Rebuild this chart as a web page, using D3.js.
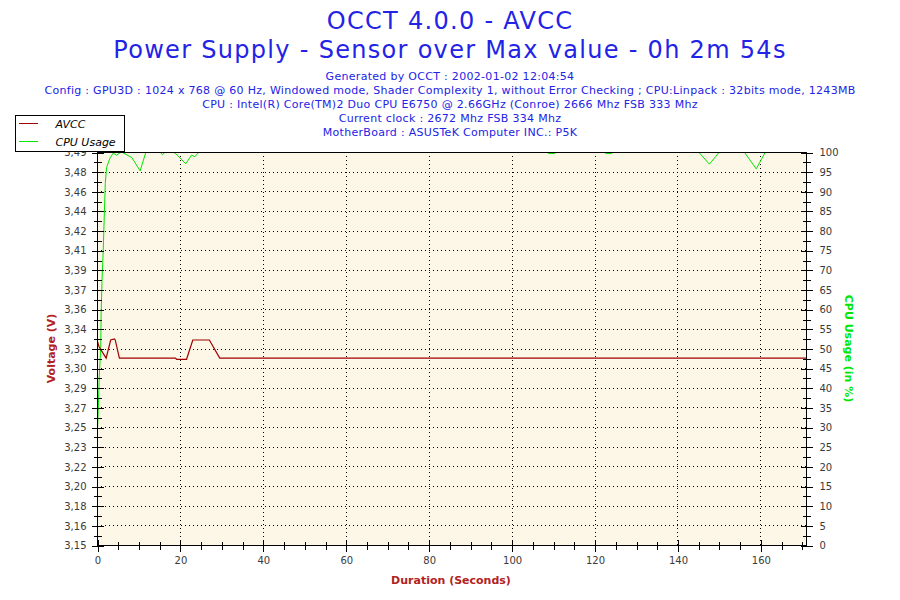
<!DOCTYPE html>
<html>
<head>
<meta charset="utf-8">
<script src="https://cdn.jsdelivr.net/npm/d3@7"></script>
<style>
  body { margin: 0; background: #fff; }
  svg { display: block; font-family: "DejaVu Sans", Verdana, sans-serif; }
  .tick text { fill: #3a3a3a; font-size: 10px; }
  .domain { display: none; }
  .tick line { stroke: #000; shape-rendering: crispEdges; }
  .grid line { stroke: #000; stroke-dasharray: 1,3; shape-rendering: crispEdges; }
  .title { fill: #2323e6; font-size: 24px; letter-spacing: 1.3px; text-anchor: middle; }
  .info { fill: #2323e6; font-size: 11px; letter-spacing: 0.3px; text-anchor: middle; }
  .axis-title { font-size: 11px; font-weight: bold; text-anchor: middle; }
</style>
</head>
<body>
<svg id="chart" width="900" height="600"></svg>
<script>
// AVCC voltage samples (seconds, volts)
const avccTime = [0, 0.5, 2.2, 3.3, 4.2, 4.4, 5.4, 18.9, 19.2, 21.6, 23.1, 27.1, 29.6, 171];
const avccVolts = [3.328, 3.322, 3.312, 3.328, 3.329, 3.328, 3.312, 3.312, 3.311, 3.311, 3.328, 3.328, 3.312, 3.312];

// CPU usage samples (seconds, percent)
const cpuTime = [0, 0.3, 0.55, 0.9, 1.0, 1.2, 1.5, 1.75, 2.0, 2.3, 3.1, 3.9, 4.7, 5.9, 8.4, 10.4, 11.8,
  15.2, 15.8, 16.5, 18.8, 21.4, 22.8, 23.6, 24.6, 108.5, 108.9, 110.4, 110.8, 122.3, 122.7, 124.1, 124.5,
  145.1, 147.7, 150.1, 156.1, 159.0, 161.2, 171];
const cpuUsage = [26, 34, 43, 50, 59, 67, 75, 83.5, 92, 96, 98.4, 99.7, 99.2, 100, 98.6, 95.2, 100,
  100, 99.3, 100, 99.8, 97, 99.2, 98.8, 100, 100, 99.6, 99.6, 100, 100, 99.6, 99.6, 100,
  100, 96.9, 100, 100, 95.7, 100, 100];

const voltDomain = [3.1475, 3.4935];
const voltLabels = ['3,15', '3,16', '3,18', '3,20', '3,22', '3,23', '3,25', '3,27', '3,29', '3,30', '3,32',
  '3,34', '3,36', '3,37', '3,39', '3,41', '3,42', '3,44', '3,46', '3,48', '3,49'];
const cpuTicks = d3.range(0, 101, 5);
const durationMax = 171;
const durationTicks = [0, 20, 40, 60, 80, 100, 120, 140, 160];
const durationMinor = d3.range(0, durationMax, 5);

const titleLines = ['OCCT 4.0.0 - AVCC', 'Power Supply - Sensor over Max value - 0h 2m 54s'];
const infoLines = [
  'Generated by OCCT : 2002-01-02 12:04:54',
  'Config : GPU3D : 1024 x 768 @ 60 Hz, Windowed mode, Shader Complexity 1, without Error Checking ; CPU:Linpack : 32bits mode, 1243MB',
  'CPU : Intel(R) Core(TM)2 Duo CPU E6750 @ 2.66GHz (Conroe) 2666 Mhz FSB 333 Mhz',
  'Current clock : 2672 Mhz FSB 334 Mhz',
  'MotherBoard : ASUSTeK Computer INC.: P5K',
];

const voltColor = '#a00000';
const voltLabelColor = '#b22222';
const cpuColor = '#00e600';

const plot = { left: 97, right: 806, top: 152, bottom: 545 };

const svg = d3.select('#chart');

const x = d3.scaleLinear().domain([0, durationMax]).range([plot.left, plot.right]);
const yVolt = d3.scaleLinear().domain(voltDomain).range([plot.bottom, plot.top]);
const yCpu = d3.scaleLinear().domain([0, 100]).range([plot.bottom, plot.top]);

const voltStep = (voltDomain[1] - voltDomain[0]) / (voltLabels.length - 1);
const voltTicks = voltLabels.map((d, i) => voltDomain[0] + i * voltStep);
const voltMinor = voltTicks.slice(1).map(v => v - voltStep / 2);
const cpuMinor = cpuTicks.slice(1).map(v => v - 2.5);

// titles
svg.append('g')
  .selectAll('text')
  .data(titleLines)
  .enter()
  .append('text')
  .attr('class', 'title')
  .attr('x', 450)
  .attr('y', (d, i) => 29 + i * 29)
  .text(d => d)
;
svg.append('g')
  .selectAll('text')
  .data(infoLines)
  .enter()
  .append('text')
  .attr('class', 'info')
  .attr('x', 450)
  .attr('y', (d, i) => 80 + i * 14)
  .text(d => d)
;

// plot background
svg.append('rect')
  .attr('x', plot.left)
  .attr('y', plot.top)
  .attr('width', plot.right - plot.left)
  .attr('height', plot.bottom - plot.top)
  .attr('fill', '#fdf7e8')
;

// dotted grid
const grid = svg.append('g').attr('class', 'grid');
grid.selectAll('line.h')
  .data(voltTicks.slice(1, -1))
  .enter()
  .append('line')
  .attr('x1', plot.left)
  .attr('x2', plot.right)
  .attr('y1', d => Math.round(yVolt(d)) + 0.5)
  .attr('y2', d => Math.round(yVolt(d)) + 0.5)
;
grid.selectAll('line.v')
  .data(durationTicks.slice(1))
  .enter()
  .append('line')
  .attr('x1', d => Math.round(x(d)) + 0.5)
  .attr('x2', d => Math.round(x(d)) + 0.5)
  .attr('y1', plot.top)
  .attr('y2', plot.bottom)
;

// series
const clip = svg.append('defs').append('clipPath').attr('id', 'plot-clip');
clip.append('rect')
  .attr('x', plot.left)
  .attr('y', plot.top)
  .attr('width', plot.right - plot.left)
  .attr('height', plot.bottom - plot.top)
;
const series = svg.append('g').attr('clip-path', 'url(#plot-clip)');
series.append('path')
  .datum(cpuTime.map((t, i) => [t, cpuUsage[i]]))
  .attr('fill', 'none')
  .attr('stroke', cpuColor)
  .attr('stroke-width', 1)
  .attr('d', d3.line().x(d => x(d[0])).y(d => yCpu(d[1])))
;
series.append('path')
  .datum(avccTime.map((t, i) => [t, avccVolts[i]]))
  .attr('fill', 'none')
  .attr('stroke', voltColor)
  .attr('stroke-width', 1.2)
  .attr('d', d3.line().x(d => x(d[0])).y(d => yVolt(d[1])))
;

// frame
svg.append('rect')
  .attr('x', plot.left + 0.5)
  .attr('y', plot.top + 0.5)
  .attr('width', plot.right - plot.left)
  .attr('height', plot.bottom - plot.top)
  .attr('fill', 'none')
  .attr('stroke', '#000')
  .style('shape-rendering', 'crispEdges')
;

// axes; major and minor ticks cross the axis line
function crossTicks(g, size, vertical) {
  g.selectAll('.tick line')
    .attr(vertical ? 'y1' : 'x1', -size)
    .attr(vertical ? 'y2' : 'x2', size)
  ;
}

const leftAxis = svg.append('g')
  .attr('transform', `translate(${plot.left + 0.5},0.5)`)
  .call(d3.axisLeft(yVolt).tickValues(voltTicks).tickSize(6).tickPadding(5)
    .tickFormat((d, i) => voltLabels[i]))
;
crossTicks(leftAxis, 6, false);
const leftMinor = svg.append('g')
  .attr('transform', `translate(${plot.left + 0.5},0.5)`)
  .call(d3.axisLeft(yVolt).tickValues(voltMinor).tickSize(4).tickFormat(''))
;
crossTicks(leftMinor, 4, false);

const rightAxis = svg.append('g')
  .attr('transform', `translate(${plot.right + 0.5},0.5)`)
  .call(d3.axisRight(yCpu).tickValues(cpuTicks).tickSize(6).tickPadding(7))
;
crossTicks(rightAxis, 6, false);
const rightMinor = svg.append('g')
  .attr('transform', `translate(${plot.right + 0.5},0.5)`)
  .call(d3.axisRight(yCpu).tickValues(cpuMinor).tickSize(4).tickFormat(''))
;
crossTicks(rightMinor, 4, false);

const bottomAxis = svg.append('g')
  .attr('transform', `translate(0.5,${plot.bottom + 0.5})`)
  .call(d3.axisBottom(x).tickValues(durationTicks).tickSize(6).tickPadding(5))
;
crossTicks(bottomAxis, 6, true);
const bottomMinor = svg.append('g')
  .attr('transform', `translate(0.5,${plot.bottom + 0.5})`)
  .call(d3.axisBottom(x).tickValues(durationMinor.filter(d => d % 20 !== 0)).tickSize(4).tickFormat(''))
;
crossTicks(bottomMinor, 4, true);

svg.selectAll('.tick text').style('font-family', '"DejaVu Sans", Verdana, sans-serif');

// axis titles
svg.append('text')
  .attr('class', 'axis-title')
  .attr('transform', `translate(55,${(plot.top + plot.bottom) / 2}) rotate(-90)`)
  .style('fill', voltLabelColor)
  .text('Voltage (V)')
;
svg.append('text')
  .attr('class', 'axis-title')
  .attr('transform', `translate(845,${(plot.top + plot.bottom) / 2}) rotate(90)`)
  .style('fill', cpuColor)
  .text('CPU Usage (in %)')
;
svg.append('text')
  .attr('class', 'axis-title')
  .attr('x', 451)
  .attr('y', 584)
  .style('fill', voltLabelColor)
  .text('Duration (Seconds)')
;

// legend
const legendItems = [
  { label: 'AVCC', color: voltColor },
  { label: 'CPU Usage', color: cpuColor },
];
const legend = svg.append('g').attr('transform', 'translate(15.5,115.5)');
legend.append('rect')
  .attr('width', 109)
  .attr('height', 36)
  .attr('fill', '#fff')
  .attr('stroke', '#000')
  .style('shape-rendering', 'crispEdges')
;
const item = legend.selectAll('g.item')
  .data(legendItems)
  .enter()
  .append('g')
  .attr('class', 'item')
  .attr('transform', (d, i) => `translate(0,${8 + i * 18})`)
;
item.append('line')
  .attr('x1', 3)
  .attr('x2', 22)
  .attr('stroke', d => d.color)
  .style('shape-rendering', 'crispEdges')
;
item.append('text')
  .attr('x', 40)
  .attr('y', 4)
  .style('font-size', '11px')
  .style('font-style', 'italic')
  .style('fill', '#000')
  .text(d => d.label)
;
</script>
</body>
</html>
